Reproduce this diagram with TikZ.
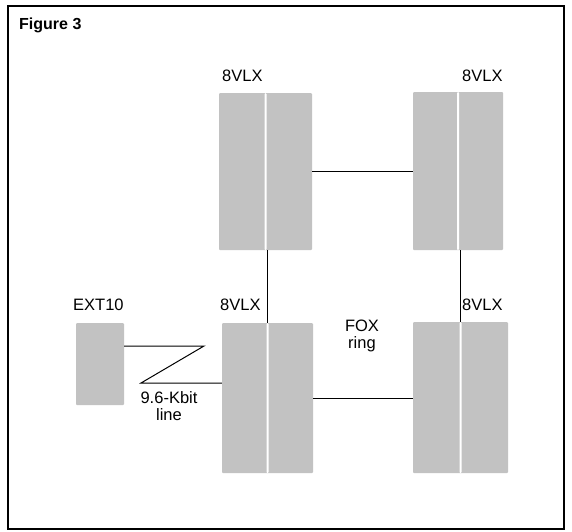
\documentclass[tikz,border=0pt]{standalone}
\usepackage{fontspec}
\setmainfont{Liberation Sans}
\begin{document}
\begin{tikzpicture}[x=1pt,y=-1pt,
  unit/.style={draw=none,fill=black!24,inner sep=0pt,rounded corners=1pt,
    path picture={\fill[white] ([xshift=-1pt]path picture bounding box.north) rectangle ([xshift=1pt]path picture bounding box.south);}},
  single/.style={draw=none,fill=black!24,inner sep=0pt,rounded corners=1pt},
  lbl/.style={inner sep=0pt,anchor=base west,font=\fontsize{16.5}{19}\selectfont},
  twoline/.style={align=center,inner sep=0pt,font=\fontsize{16.5}{17}\selectfont},
  conn/.style={line width=1pt,black},
  frame/.style={line width=1.2pt,black}]
\useasboundingbox (0,0) rectangle (572,531);
\draw[frame] (8,6) rectangle (564,529);
\node[inner sep=0pt,anchor=base west,font=\fontsize{16}{18}\selectfont\bfseries] (title) at (19,29) {Figure 3};
% units
\node[unit,minimum width=93pt,minimum height=157pt] (tl) at (265.5,171.5) {};
\node[unit,minimum width=90pt,minimum height=158pt] (tr) at (458,171) {};
\node[unit,minimum width=91pt,minimum height=150pt] (bl) at (267.5,398) {};
\node[unit,minimum width=95pt,minimum height=151pt] (br) at (460.5,397.5) {};
\node[single,minimum width=48pt,minimum height=82pt] (ext) at (100,364) {};
% labels
\node[lbl] (ltl) at (222,81) {8VLX};
\node[lbl] (ltr) at (462,81) {8VLX};
\node[lbl] (lbl) at (220,310) {8VLX};
\node[lbl] (lbr) at (462,310) {8VLX};
\node[lbl] (lext) at (73,310) {EXT10};
\node[twoline,anchor=base] (fox) at (362,348) {FOX\\ring};
\node[twoline,anchor=base] (kbit) at (169,420) {9.6-Kbit\\line};
% connectors
\draw[conn] (tl.east) -- (tl.east -| tr.west);
\draw[conn] (bl.east) -- (bl.east -| br.west);
\draw[conn] (bl.north) -- (bl.north |- tl.south);
\draw[conn] (br.north) -- (br.north |- tr.south);
\coordinate (z1) at (204,346);
\coordinate (z2) at (141,383);
\draw[conn] ([yshift=18pt]ext.east) -- (z1) -- (z2) -- (z2 -| bl.west);
\end{tikzpicture}
\end{document}
